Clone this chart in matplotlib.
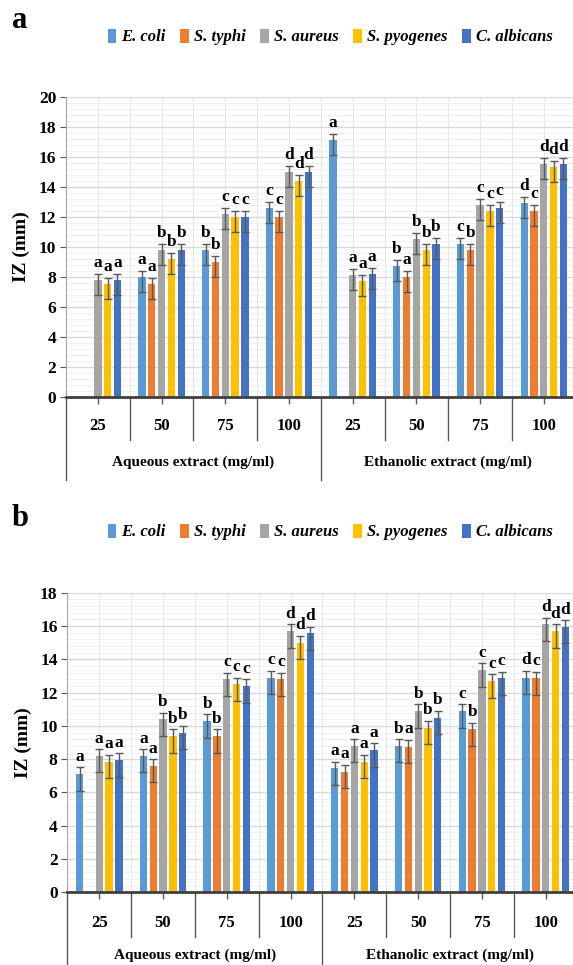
"""zone of inhibition bars, aqueous vs ethanolic extract"""

import matplotlib
matplotlib.use('Agg')
import matplotlib.pyplot as plt
import matplotlib.transforms as mtransforms
from matplotlib.patches import Patch
from matplotlib.ticker import MultipleLocator
import numpy as np


plt.rcParams['font.family'] = ['Liberation Serif', 'DejaVu Serif']
plt.rcParams['font.weight'] = 'bold'

organisms = ['E. coli', 'S. typhi', 'S. aureus', 'S. pyogenes', 'C. albicans']
colors = ['#5B9BD5', '#ED7D31', '#A5A5A5', '#FFC000', '#4472C4']
doses = ['25', '50', '75', '100', '25', '50', '75', '100']
groups = ['Aqueous extract (mg/ml)', 'Ethanolic extract (mg/ml)']

# panel a, one list per organism (aqueous 25..100, ethanolic 25..100)
a_ecoli = [0, 8.0, 9.8, 12.6, 17.1, 8.7, 10.2, 12.9]
a_typhi = [0, 7.5, 9.0, 12.0, 0, 8.0, 9.8, 12.4]
a_aureus = [7.8, 9.8, 12.2, 15.0, 8.1, 10.5, 12.8, 15.5]
a_pyog = [7.5, 9.2, 12.0, 14.4, 7.7, 9.8, 12.4, 15.3]
a_albic = [7.8, 9.8, 12.0, 15.0, 8.2, 10.2, 12.6, 15.5]

a_lab_ecoli = ['', 'a', 'b', 'c', 'a', 'b', 'c', 'd']
a_lab_typhi = ['', 'a', 'b', 'c', '', 'a', 'b', 'c']
a_lab_aureus = ['a', 'b', 'c', 'd', 'a', 'b', 'c', 'd']
a_lab_pyog = ['a', 'b', 'c', 'd', 'a', 'b', 'c', 'd']
a_lab_albic = ['a', 'b', 'c', 'd', 'a', 'b', 'c', 'd']

# panel b
b_ecoli = [7.1, 8.2, 10.3, 12.9, 7.45, 8.8, 10.9, 12.9]
b_typhi = [0, 7.6, 9.4, 12.8, 7.25, 8.75, 9.8, 12.85]
b_aureus = [8.2, 10.4, 12.8, 15.7, 8.8, 10.9, 13.35, 16.1]
b_pyog = [7.85, 9.4, 12.5, 15.0, 7.85, 9.9, 12.7, 15.7]
b_albic = [7.95, 9.6, 12.4, 15.55, 8.55, 10.5, 12.85, 15.95]

b_lab_ecoli = ['a', 'a', 'b', 'c', 'a', 'b', 'c', 'd']
b_lab_typhi = ['', 'a', 'b', 'c', 'a', 'a', 'b', 'c']
b_lab_aureus = ['a', 'b', 'c', 'd', 'a', 'b', 'c', 'd']
b_lab_pyog = ['a', 'b', 'c', 'd', 'a', 'b', 'c', 'd']
b_lab_albic = ['a', 'b', 'c', 'd', 'a', 'b', 'c', 'd']

# error bars drawn above / below the bar top
err_up = 0.4
err_down = 1.0


def draw_panel(ax, series, labels, ymax, height_px, cat_off, grp_off, div_len, grp_len):
    """grouped bars with error bars, letters and two-level category axis"""
    x = np.arange(len(doses))
    step, width = 0.154, 0.115
    ax.set_xlim(-0.5, len(doses) - 0.5)
    ax.set_ylim(0, ymax)

    # grid
    ax.set_axisbelow(True)
    ax.yaxis.set_major_locator(MultipleLocator(2))
    ax.yaxis.set_minor_locator(MultipleLocator(0.4))
    ax.grid(axis='y', which='major', color='#d9d9d9', lw=1.0)
    ax.grid(axis='y', which='minor', color='#f0f0f0', lw=0.8)
    for k in range(len(doses)):
        ax.axvline(k, color='#e6e6e6', lw=0.8, zorder=0)
        ax.axvline(k + 0.5, color='#e6e6e6', lw=0.8, zorder=0)

    for i, (vals, labs) in enumerate(zip(series, labels)):
        vals = np.array(vals, dtype=float)
        pos = x + (i - 2) * step
        ax.bar(pos, vals, width=width, color=colors[i], zorder=2)
        have = vals > 0
        ax.errorbar(pos[have], vals[have], yerr=[[err_down] * have.sum(), [err_up] * have.sum()],
                    fmt='none', ecolor='#595959', elinewidth=1.0, capsize=2.6,
                    capthick=1.0, zorder=3)
        for p, v, lab in zip(pos, vals, labs):
            if lab:
                ax.annotate(lab, (p, v), xytext=(0, 9.5), textcoords='offset points',
                            ha='center', va='baseline', fontsize=12.5, fontweight='bold')

    for s in ['top', 'right']:
        ax.spines[s].set_visible(False)
    ax.spines['left'].set_color('#a6a6a6')
    ax.spines['bottom'].set_color('#404040')
    ax.spines['bottom'].set_linewidth(2)
    ax.spines['bottom'].set_zorder(4)

    ax.set_xticks(x)
    ax.set_xticklabels([])
    ax.tick_params(axis='x', length=5, color='#595959', width=1)
    ax.tick_params(axis='y', which='major', length=4, color='#595959', labelsize=12.5, pad=3)
    ax.tick_params(axis='y', which='minor', length=0)
    for t in ax.get_yticklabels():
        t.set_fontweight('bold')
    ax.set_ylabel('IZ (mm)', fontsize=14, fontweight='bold', labelpad=6)

    # two-level category axis under the plot
    trans = mtransforms.blended_transform_factory(ax.transData, ax.transAxes)
    for k, d in enumerate(doses):
        ax.text(k, -cat_off / height_px, d, transform=trans, ha='center', va='center',
                fontsize=12, fontweight='bold')
    for k in range(1, len(doses)):
        if k == 4:
            continue
        ax.plot([k - 0.5, k - 0.5], [0, -div_len / height_px], transform=trans,
                color='#595959', lw=1, clip_on=False)
    for xg in [-0.5, 3.5, 7.5]:
        ax.plot([xg, xg], [0, -grp_len / height_px], transform=trans,
                color='#595959', lw=1, clip_on=False)
    for g, name in enumerate(groups):
        ax.text(1.5 + 4 * g, -grp_off / height_px, name, transform=trans,
                ha='center', va='center', fontsize=11, fontweight='bold')


fig = plt.figure(figsize=(5.73, 9.65), dpi=100)

ax_a = fig.add_axes([0.1152, 0.5886, 0.8894, 0.3109])
draw_panel(ax_a,
           [a_ecoli, a_typhi, a_aureus, a_pyog, a_albic],
           [a_lab_ecoli, a_lab_typhi, a_lab_aureus, a_lab_pyog, a_lab_albic],
           20, 300, 29, 65, 43, 83)

ax_b = fig.add_axes([0.1175, 0.0753, 0.8906, 0.3105])
draw_panel(ax_b,
           [b_ecoli, b_typhi, b_aureus, b_pyog, b_albic],
           [b_lab_ecoli, b_lab_typhi, b_lab_aureus, b_lab_pyog, b_lab_albic],
           18, 300, 31, 63, 45, 80)

handles = [Patch(facecolor=c, edgecolor='none') for c in colors]
legend_font = {'family': 'Liberation Serif', 'weight': 'bold', 'style': 'italic', 'size': 12}
for ytop in [1 - 37 / 965, 1 - 532 / 965]:
    fig.legend(handles, organisms, loc='center', bbox_to_anchor=(0.576, ytop), ncol=5,
               frameon=False, prop=legend_font, handlelength=0.5, handleheight=0.9,
               handletextpad=0.3, columnspacing=0.9, borderaxespad=0, borderpad=0)

fig.text(12 / 573, 1 - 20 / 965, 'a', fontsize=22, fontweight='bold', ha='left', va='center')
fig.text(12 / 573, 1 - 518 / 965, 'b', fontsize=22, fontweight='bold', ha='left', va='center')

fig.savefig('out.png', dpi=100, facecolor='white')
